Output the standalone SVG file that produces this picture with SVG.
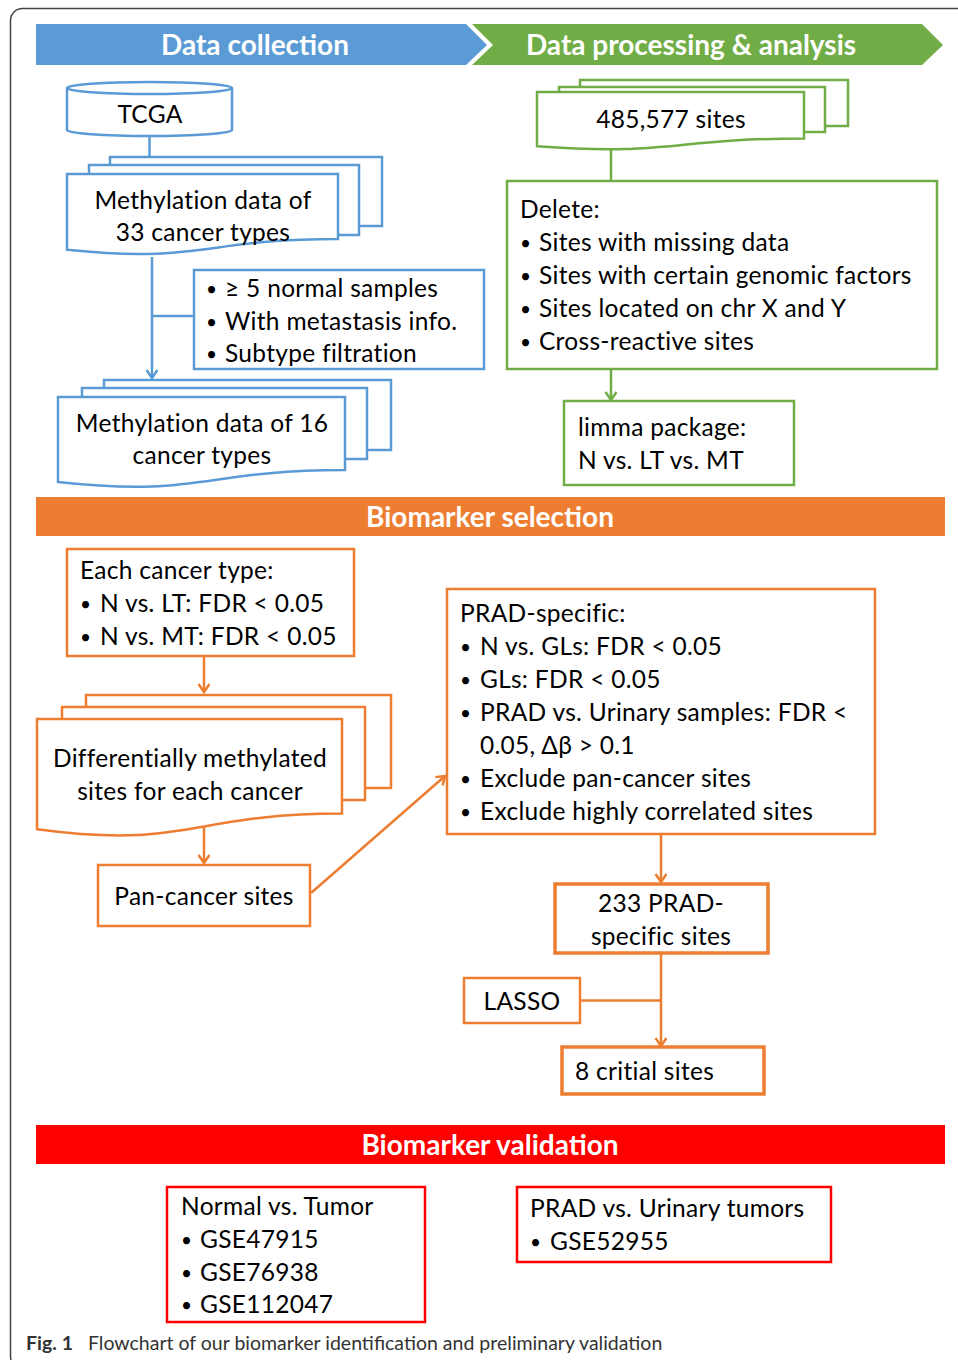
<svg xmlns="http://www.w3.org/2000/svg" width="958" height="1360" viewBox="0 0 958 1360">
<defs>
<style>
text{font-family:Lato,"Liberation Sans",sans-serif;font-size:24.5px;letter-spacing:0.3px;fill:#000}
.hd{font-weight:bold;fill:#fff;font-size:28px;letter-spacing:0;text-anchor:middle}
.c{text-anchor:middle}
.bl{font-size:19px}
.b{fill:#fff;stroke:#5B9BD5;stroke-width:2.5}
.g{fill:#fff;stroke:#70AD47;stroke-width:2.5}
.o{fill:#fff;stroke:#ED7D31;stroke-width:2.5}
.ot{fill:#fff;stroke:#ED7D31;stroke-width:3.5}
.r{fill:#fff;stroke:#FF0000;stroke-width:2.5}
.lb{fill:none;stroke:#5B9BD5;stroke-width:2.5}
.lg{fill:none;stroke:#70AD47;stroke-width:2.5}
.lo{fill:none;stroke:#ED7D31;stroke-width:2.5}
.cap{font-size:19.5px;letter-spacing:0;fill:#333}
</style>
<marker id="aB" markerUnits="userSpaceOnUse" markerWidth="14" markerHeight="14" refX="9" refY="6" orient="auto"><path d="M1,0.5 L9,6 L1,11.5" fill="none" stroke="#5B9BD5" stroke-width="2.5"/></marker>
<marker id="aG" markerUnits="userSpaceOnUse" markerWidth="14" markerHeight="14" refX="9" refY="6" orient="auto"><path d="M1,0.5 L9,6 L1,11.5" fill="none" stroke="#70AD47" stroke-width="2.5"/></marker>
<marker id="aO" markerUnits="userSpaceOnUse" markerWidth="14" markerHeight="14" refX="9" refY="6" orient="auto"><path d="M1,0.5 L9,6 L1,11.5" fill="none" stroke="#ED7D31" stroke-width="2.5"/></marker>
</defs>
<rect x="0" y="0" width="958" height="1360" fill="#fff"/>
<rect x="10.5" y="8.5" width="970" height="1360" rx="12" fill="none" stroke="#444" stroke-width="1.5"/>

<!-- headers -->
<g id="hdr-collection">
<polygon points="36,24 466,24 487,45 466,65 36,65" fill="#5B9BD5"/>
<text class="hd" x="255" y="55">Data collection</text>
</g>
<g id="hdr-processing">
<polygon points="472,24 922,24 943,45 922,65 472,65 493,45" fill="#70AD47"/>
<text class="hd" x="691" y="55">Data processing &amp; analysis</text>
</g>
<g id="hdr-selection">
<rect x="36" y="497" width="909" height="39" fill="#ED7D31"/>
<text class="hd" x="490" y="527">Biomarker selection</text>
</g>
<g id="hdr-validation">
<rect x="36" y="1125" width="909" height="39" fill="#FF0000"/>
<text class="hd" x="490" y="1155">Biomarker validation</text>
</g>

<!-- connectors -->
<g id="connectors">
<line class="lb" x1="149.5" y1="136" x2="149.5" y2="157"/>
<line class="lb" x1="152" y1="257" x2="152" y2="378" marker-end="url(#aB)"/>
<line class="lb" x1="152" y1="316" x2="194" y2="316"/>
<line class="lg" x1="611" y1="146" x2="611" y2="181"/>
<line class="lg" x1="611" y1="369" x2="611" y2="400" marker-end="url(#aG)"/>
<line class="lo" x1="204" y1="656" x2="204" y2="692" marker-end="url(#aO)"/>
<line class="lo" x1="204" y1="826" x2="204" y2="863" marker-end="url(#aO)"/>
<line class="lo" x1="311" y1="893" x2="445" y2="776" marker-end="url(#aO)"/>
<line class="lo" x1="661" y1="835" x2="661" y2="882" marker-end="url(#aO)"/>
<line class="lo" x1="661" y1="954" x2="661" y2="1046" marker-end="url(#aO)"/>
<line class="lo" x1="580" y1="1000.5" x2="661" y2="1000.5"/>
</g>

<!-- blue nodes -->
<g id="tcga">
<path class="b" d="M67,88 V130 A82.5,6 0 0 0 232,130 V88"/>
<ellipse class="b" cx="149.5" cy="88" rx="82.5" ry="6"/>
<text class="c" x="150" y="123">TCGA</text>
</g>
<g id="meth33">
<rect class="b" x="110" y="157" width="272" height="69"/>
<rect class="b" x="89" y="165" width="270" height="70"/>
<path class="b" d="M67,174 H338 V239 C202.5,239 202.5,263.7 67,249.7 Z"/>
<text class="c" x="203" y="209">Methylation data of</text>
<text class="c" x="203" y="241">33 cancer types</text>
</g>
<g id="filter">
<rect class="b" x="194" y="270" width="290" height="99"/>
<text class="bl" x="206" y="296">•</text><text x="225" y="297">≥ 5 normal samples</text>
<text class="bl" x="206" y="329">•</text><text x="225" y="330">With metastasis info.</text>
<text class="bl" x="206" y="361">•</text><text x="225" y="362">Subtype filtration</text>
</g>
<g id="meth16">
<rect class="b" x="104" y="380" width="287" height="70"/>
<rect class="b" x="82" y="388" width="285" height="71"/>
<path class="b" d="M58,397 H345 V470 C201.5,470 201.5,497.7 58,482 Z"/>
<text class="c" x="202" y="432">Methylation data of 16</text>
<text class="c" x="202" y="464">cancer types</text>
</g>

<!-- green nodes -->
<g id="sites485">
<rect class="g" x="580" y="80" width="268" height="46"/>
<rect class="g" x="559" y="87" width="266" height="45"/>
<path class="g" d="M537,92 H804 V138.5 C670.5,138.5 670.5,156.2 537,146.2 Z"/>
<text class="c" x="671" y="128">485,577 sites</text>
</g>
<g id="delete">
<rect class="g" x="507" y="181" width="430" height="188"/>
<text x="520" y="218">Delete:</text>
<text class="bl" x="520" y="250">•</text><text x="539" y="251">Sites with missing data</text>
<text class="bl" x="520" y="283">•</text><text x="539" y="284">Sites with certain genomic factors</text>
<text class="bl" x="520" y="316">•</text><text x="539" y="317">Sites located on chr X and Y</text>
<text class="bl" x="520" y="349">•</text><text x="539" y="350">Cross-reactive sites</text>
</g>
<g id="limma">
<rect class="g" x="564" y="401" width="230" height="84"/>
<text x="578" y="436">limma package:</text>
<text x="578" y="469">N vs. LT vs. MT</text>
</g>

<!-- orange nodes -->
<g id="each">
<rect class="o" x="67" y="549" width="287" height="107"/>
<text x="80" y="579">Each cancer type:</text>
<text class="bl" x="80" y="611">•</text><text x="100" y="612">N vs. LT: FDR &lt; 0.05</text>
<text class="bl" x="80" y="644">•</text><text x="100" y="645">N vs. MT: FDR &lt; 0.05</text>
</g>
<g id="dm">
<rect class="o" x="86" y="695" width="305" height="93"/>
<rect class="o" x="62" y="707" width="303" height="93"/>
<path class="o" d="M37,719 H342 V813.6 C189.5,813.6 189.5,849.6 37,829.2 Z"/>
<text class="c" x="190" y="767">Differentially methylated</text>
<text class="c" x="190" y="800">sites for each cancer</text>
</g>
<g id="pancancer">
<rect class="o" x="98" y="865" width="212" height="61"/>
<text class="c" x="204" y="905">Pan-cancer sites</text>
</g>
<g id="prad">
<rect class="o" x="447" y="589" width="428" height="245"/>
<text x="460" y="622">PRAD-specific:</text>
<text class="bl" x="460" y="654">•</text><text x="480" y="655">N vs. GLs: FDR &lt; 0.05</text>
<text class="bl" x="460" y="687">•</text><text x="480" y="688">GLs: FDR &lt; 0.05</text>
<text class="bl" x="460" y="720">•</text><text x="480" y="721">PRAD vs. Urinary samples: FDR &lt;</text>
<text x="480" y="754">0.05, Δβ &gt; 0.1</text>
<text class="bl" x="460" y="786">•</text><text x="480" y="787">Exclude pan-cancer sites</text>
<text class="bl" x="460" y="819">•</text><text x="480" y="820">Exclude highly correlated sites</text>
</g>
<g id="prad233">
<rect class="ot" x="555" y="884" width="213" height="69"/>
<text class="c" x="661" y="912">233 PRAD-</text>
<text class="c" x="661" y="945">specific sites</text>
</g>
<g id="lasso">
<rect class="o" x="464" y="978" width="116" height="45"/>
<text class="c" x="522" y="1010">LASSO</text>
</g>
<g id="critical">
<rect class="ot" x="562" y="1047" width="202" height="47"/>
<text x="575" y="1080">8 critial sites</text>
</g>

<!-- red nodes -->
<g id="normal-tumor">
<rect class="r" x="167" y="1187" width="258" height="135"/>
<text x="181" y="1215">Normal vs. Tumor</text>
<text class="bl" x="181" y="1247">•</text><text x="200" y="1248">GSE47915</text>
<text class="bl" x="181" y="1280">•</text><text x="200" y="1281">GSE76938</text>
<text class="bl" x="181" y="1312">•</text><text x="200" y="1313">GSE112047</text>
</g>
<g id="prad-urinary">
<rect class="r" x="517" y="1187" width="314" height="75"/>
<text x="530" y="1217">PRAD vs. Urinary tumors</text>
<text class="bl" x="530" y="1249">•</text><text x="550" y="1250">GSE52955</text>
</g>

<g id="caption">
<text class="cap" x="26" y="1350"><tspan font-weight="bold">Fig. 1</tspan><tspan x="88">Flowchart of our biomarker identification and preliminary validation</tspan></text>
</g>
</svg>
